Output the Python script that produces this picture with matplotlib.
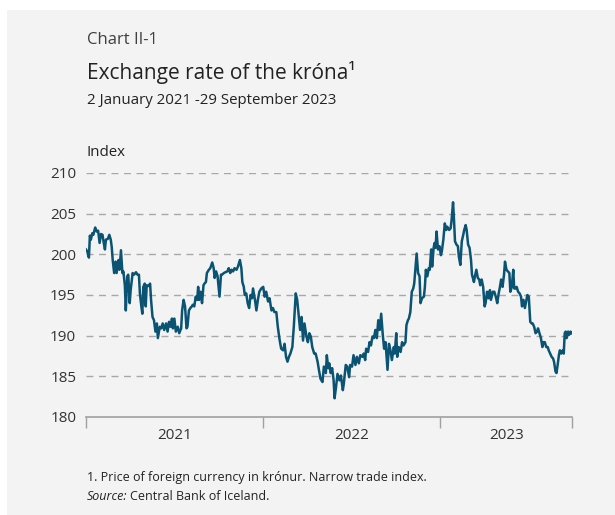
import matplotlib
matplotlib.use("Agg")
import matplotlib.pyplot as plt
import pandas as pd
from matplotlib.patches import Rectangle

plt.rcParams['font.family'] = ['Open Sans', 'DejaVu Sans']

# days since 1 January 2021 and index value
days = [0, 3, 6, 8, 10, 13, 15, 19, 22, 25, 28, 31, 34, 36, 39, 41, 45, 48, 51, 53,
        55, 58, 61, 63, 67, 69, 72, 75, 77, 80, 82, 85, 87, 90, 92, 96, 99, 103, 106, 109,
        111, 114, 116, 118, 121, 123, 125, 129, 132, 134, 137, 140, 143, 146, 148, 152, 155, 158, 161, 165,
        168, 171, 174, 177, 179, 182, 185, 189, 192, 196, 198, 201, 204, 207, 209, 212, 215, 218, 220, 223,
        226, 229, 231, 233, 236, 239, 242, 244, 247, 249, 253, 256, 260, 263, 265, 268, 271, 275, 278, 280,
        284, 287, 291, 294, 297, 300, 303, 306, 310, 313, 317, 320, 322, 325, 327, 330, 333, 336, 339, 342,
        344, 348, 351, 354, 357, 361, 365, 368, 371, 375, 378, 382, 385, 388, 392, 395, 399, 402, 406, 409,
        412, 415, 418, 421, 425, 428, 432, 435, 439, 441, 444, 447, 450, 454, 457, 460, 463, 466, 470, 473,
        477, 480, 483, 487, 490, 494, 496, 499, 501, 504, 507, 510, 512, 515, 518, 522, 525, 529, 531, 535,
        538, 542, 544, 548, 551, 555, 558, 562, 565, 569, 572, 575, 577, 581, 584, 587, 590, 593, 596, 599,
        602, 605, 608, 611, 614, 617, 619, 621, 624, 627, 630, 634, 636, 639, 641, 644, 648, 651, 654, 658,
        660, 663, 665, 668, 671, 674, 676, 678, 681, 684, 687, 689, 692, 696, 698, 700, 703, 706, 708, 711,
        713, 716, 718, 720, 722, 725, 728, 731, 733, 736, 739, 742, 744, 748, 751, 753, 756, 758, 760, 763,
        766, 768, 771, 774, 777, 779, 782, 784, 787, 790, 793, 795, 799, 801, 804, 807, 810, 812, 815, 818,
        821, 823, 826, 829, 832, 834, 838, 841, 844, 847, 850, 852, 855, 858, 861, 863, 866, 869, 872, 874,
        877, 880, 882, 885, 887, 890, 893, 896, 898, 901, 904, 907, 909, 912, 915, 918, 920, 923, 926, 929,
        931, 934, 937, 940, 942, 945, 948, 951, 953, 956, 959, 962, 964, 967, 969, 971, 974, 976, 979, 982,
        984, 986, 988, 990, 993, 995, 998, 1000]
values = [200.6, 200.3, 199.6, 202.3, 201.8, 202.6, 202.4, 203.3, 202.8, 202.9, 201.4, 202.5, 202.4, 201.6, 200.6, 201.8, 201.9, 202.4, 201.8, 200.9,
          199.3, 197.7, 199.1, 197.7, 199.3, 198.1, 200.5, 197.7, 197.9, 196.2, 193.1, 197.3, 197.5, 194.0, 195.6, 197.7, 197.5, 197.8, 197.5, 197.5,
          195.2, 193.6, 192.7, 196.0, 196.4, 193.6, 196.2, 196.1, 196.4, 194.4, 192.3, 191.9, 190.5, 191.5, 189.7, 191.1, 190.9, 191.5, 190.7, 191.5,
          190.5, 191.7, 191.1, 192.1, 190.9, 192.1, 190.5, 191.1, 190.3, 190.9, 193.1, 194.4, 193.6, 190.9, 191.1, 193.1, 193.4, 193.6, 193.8, 193.6,
          194.8, 194.4, 196.0, 194.4, 195.4, 194.0, 196.2, 196.4, 196.6, 197.7, 198.1, 198.3, 199.0, 198.3, 197.1, 197.9, 197.3, 194.8, 197.5, 197.5,
          197.7, 197.8, 197.9, 198.3, 197.7, 198.1, 197.9, 198.3, 198.1, 198.5, 199.3, 198.3, 196.6, 196.0, 195.0, 195.2, 194.0, 193.4, 195.0, 194.6,
          195.8, 194.4, 193.1, 194.4, 195.4, 195.8, 196.0, 194.8, 195.4, 194.2, 194.6, 193.1, 193.4, 192.9, 192.9, 191.1, 189.4, 188.4, 188.2, 189.0,
          187.4, 186.8, 187.4, 187.8, 188.6, 191.1, 195.2, 194.4, 191.9, 190.7, 192.3, 189.4, 191.5, 189.9, 189.2, 190.3, 189.9, 188.6, 187.8, 187.8,
          186.8, 185.7, 184.7, 184.3, 186.2, 185.4, 187.6, 186.0, 186.6, 185.4, 186.0, 184.5, 182.3, 183.7, 185.3, 184.5, 185.1, 183.3, 184.1, 186.4,
          186.2, 184.9, 186.4, 186.2, 187.6, 186.4, 187.4, 186.6, 187.6, 187.4, 187.8, 187.0, 188.4, 188.0, 189.2, 188.8, 189.9, 189.7, 190.7, 189.7,
          191.9, 190.7, 192.7, 190.3, 188.4, 189.2, 187.4, 185.8, 189.0, 188.2, 187.0, 188.6, 187.8, 190.3, 187.4, 188.6, 188.0, 189.2, 188.8, 189.2,
          191.3, 191.9, 192.1, 192.9, 195.4, 195.8, 196.4, 197.9, 200.1, 197.7, 197.3, 194.0, 194.6, 194.8, 196.0, 198.1, 197.3, 198.3, 198.1, 200.6,
          198.5, 200.8, 201.4, 200.8, 202.8, 200.6, 201.0, 199.9, 200.4, 201.8, 203.8, 203.0, 203.4, 203.0, 203.2, 204.2, 206.4, 204.2, 201.6, 201.2,
          201.0, 199.7, 198.7, 201.6, 202.4, 203.0, 203.6, 203.0, 201.2, 200.8, 199.3, 197.5, 196.6, 197.3, 198.1, 197.1, 196.9, 196.2, 196.9, 196.0,
          193.6, 194.0, 195.4, 194.6, 195.6, 194.4, 195.4, 195.4, 194.8, 194.0, 195.2, 195.8, 196.9, 196.0, 197.5, 199.1, 198.1, 197.9, 197.7, 195.4,
          196.0, 198.1, 195.8, 195.8, 196.0, 195.4, 195.2, 194.8, 193.6, 194.4, 193.4, 194.4, 195.0, 194.8, 191.7, 191.5, 191.5, 191.1, 190.3, 190.5,
          190.9, 190.3, 189.7, 188.6, 189.2, 189.2, 188.6, 188.6, 188.2, 187.8, 187.4, 187.2, 186.8, 185.6, 185.4, 186.2, 187.6, 188.2, 187.8, 188.2,
          187.8, 190.3, 190.5, 189.7, 190.5, 190.1, 190.5, 190.3]

yticks = [180, 185, 190, 195, 200, 205, 210]
year_labels = ["2021", "2022", "2023"]

start = pd.Timestamp("2021-01-01")
dates = start + pd.to_timedelta(days, unit="D")

W, H = 615, 515
fig = plt.figure(figsize=(W / 100, H / 100), dpi=100)
fig.patch.set_facecolor("white")
fig.patches.append(Rectangle((7 / W, 0), 1, 1 - 10 / H, transform=fig.transFigure,
                             facecolor="#f3f3f3", edgecolor="none", zorder=-5))

ax = fig.add_axes([86 / W, 1 - 417 / H, (572 - 86) / W, (417 - 173) / H])
ax.set_facecolor("none")
ax.plot(dates, values, color="#0b5373", lw=1.8, solid_joinstyle="round", zorder=3)

ax.set_ylim(180, 210)
ax.set_yticks(yticks)
ax.tick_params(axis="y", length=0, pad=7, labelsize=11, labelcolor="#333333")
for y in yticks[1:]:
    ax.axhline(y, color="#a8a8a8", lw=1.0, ls=(0, (5, 4)), zorder=1)

end = pd.Timestamp("2023-09-29")
ax.set_xlim(start, end)
bounds = [start, pd.Timestamp("2022-01-01"), pd.Timestamp("2023-01-01"), end]
ax.set_xticks(bounds)
ax.set_xticklabels([])
ax.tick_params(axis="x", which="major", length=8, width=1, color="#a0a0a0")
mids = [bounds[i] + (bounds[i + 1] - bounds[i]) / 2 for i in range(3)]
ax.set_xticks(mids, minor=True)
ax.set_xticklabels(year_labels, minor=True)
ax.tick_params(axis="x", which="minor", length=0, pad=8, labelsize=11, labelcolor="#333333")

for s in ["top", "right", "left"]:
    ax.spines[s].set_visible(False)
ax.spines["bottom"].set_color("#a0a0a0")
ax.spines["bottom"].set_linewidth(1.2)

# titles and notes
def fy(y):
    return 1 - y / H

fig.text(87 / W, fy(40), "Chart II-1", fontsize=12, color="#404040", va="center")
fig.text(87 / W, fy(73), "Exchange rate of the króna\u00b9", fontsize=15, color="#222222", va="center")
fig.text(87 / W, fy(101), "2 January 2021 -29 September 2023", fontsize=10.8, color="#222222", va="center")
fig.text(87 / W, fy(152), "Index", fontsize=10.8, color="#222222", va="center")
fig.text(87 / W, fy(477), "1. Price of foreign currency in krónur. Narrow trade index.",
         fontsize=9, color="#222222", va="center")
t = fig.text(87 / W, fy(497), "Source:", fontsize=9, color="#222222", va="center", style="italic")
fig.canvas.draw()
bb = t.get_window_extent()
fig.text((bb.x1 + 3) / W, fy(497), "Central Bank of Iceland.", fontsize=9, color="#222222", va="center")

fig.savefig("out.png", dpi=100)
